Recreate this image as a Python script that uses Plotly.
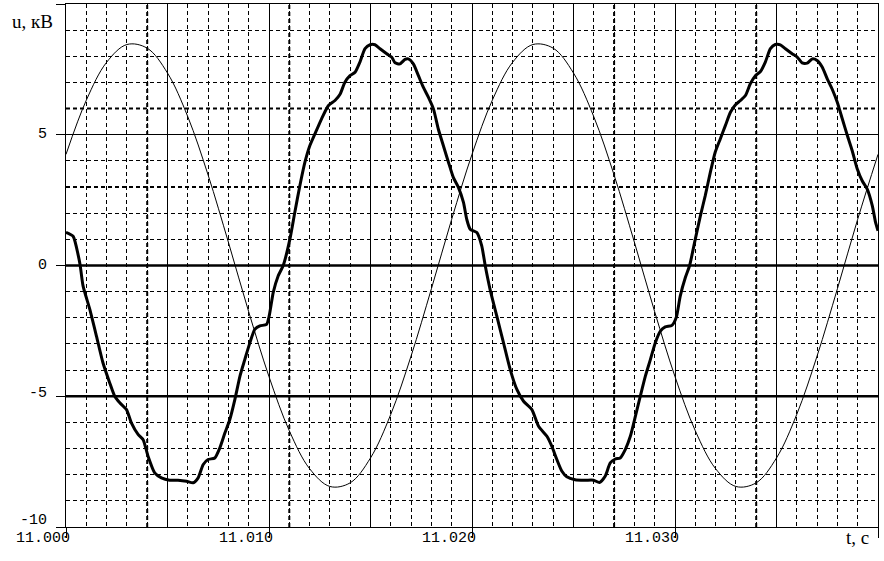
import plotly.graph_objects as go

# ---------------- data ----------------
T0 = 11.000  # start time, s

# thin curve (sinusoid), time in ms from T0
thin_t_ms = list(range(0, 41))
thin_u = [4.25, 6.32, 7.77, 8.45, 8.31, 7.36, 5.69, 3.46, 0.89, -1.77,
          -4.25, -6.32, -7.77, -8.45, -8.31, -7.36, -5.69, -3.46, -0.89, 1.77,
          4.25, 6.32, 7.77, 8.45, 8.31, 7.36, 5.69, 3.46, 0.89, -1.77,
          -4.25, -6.32, -7.77, -8.45, -8.31, -7.36, -5.69, -3.46, -0.89, 1.77,
          4.25]

# thick curve (distorted voltage), time in ms from T0
thick_t_ms = [0.00, 0.35, 0.60, 0.70, 0.84, 1.17, 1.50, 1.82, 2.15, 2.40,
              2.65, 2.98, 3.22, 3.55, 3.80, 4.04, 4.37, 4.70, 5.11, 5.52,
              5.94, 6.26, 6.51, 6.76, 7.00, 7.33, 7.58, 7.83, 8.07, 8.32,
              8.57, 8.81, 9.06, 9.30, 9.55, 9.88, 10.01, 10.21, 10.45, 10.70,
              11.03, 11.27, 11.52, 11.77, 12.01, 12.26, 12.59, 12.92, 13.25, 13.50,
              13.74, 13.99, 14.24, 14.48, 14.73, 14.98, 15.22, 15.47, 15.80, 16.04,
              16.21, 16.45, 16.70, 16.86, 17.11, 17.36, 17.60, 17.85, 18.10, 18.34,
              18.59, 18.84, 19.08, 19.33, 19.58, 19.74, 19.91, 20.24, 20.48, 20.65,
              20.89, 21.22, 21.55, 21.88, 22.21, 22.54, 22.95, 23.28, 23.69, 23.93,
              24.18, 24.43, 24.67, 25.08, 25.58, 25.99, 26.28, 26.56, 26.81, 27.06,
              27.30, 27.55, 27.80, 28.05, 28.29, 28.54, 28.79, 29.03, 29.28, 29.52,
              29.85, 30.06, 30.26, 30.51, 30.72, 31.00, 31.25, 31.49, 31.74, 31.98,
              32.23, 32.48, 32.73, 32.97, 33.22, 33.47, 33.71, 33.96, 34.21, 34.45,
              34.70, 34.94, 35.19, 35.44, 35.77, 36.02, 36.26, 36.51, 36.76, 37.00,
              37.25, 37.50, 37.74, 37.99, 38.24, 38.49, 38.73, 38.98, 39.22, 39.47,
              39.72, 39.88, 40.00]
thick_u = [1.27, 1.12, 0.40, 0.00, -0.78, -1.67, -2.70, -3.72, -4.48, -5.00,
           -5.25, -5.51, -6.02, -6.46, -6.66, -7.29, -7.93, -8.12, -8.21, -8.21,
           -8.25, -8.31, -8.12, -7.61, -7.42, -7.36, -6.97, -6.40, -5.89, -5.12,
           -4.23, -3.59, -2.95, -2.44, -2.31, -2.25, -1.93, -1.03, -0.40, 0.00,
           1.01, 2.03, 3.05, 3.95, 4.58, 5.03, 5.61, 6.11, 6.31, 6.55,
           7.01, 7.26, 7.39, 7.78, 8.29, 8.44, 8.44, 8.29, 8.10, 7.97,
           7.75, 7.71, 7.88, 7.90, 7.71, 7.26, 6.82, 6.44, 5.99, 5.22,
           4.58, 3.95, 3.37, 2.99, 2.41, 1.77, 1.39, 1.26, 0.75, 0.00,
           -0.91, -1.93, -2.95, -3.97, -4.74, -5.19, -5.51, -6.15, -6.53, -6.91,
           -7.42, -7.87, -8.08, -8.19, -8.21, -8.21, -8.30, -8.06, -7.55, -7.40,
           -7.36, -7.04, -6.53, -5.76, -5.00, -4.23, -3.59, -2.95, -2.51, -2.35,
           -2.29, -1.99, -1.16, -0.46, 0.00, 1.01, 1.90, 2.67, 3.56, 4.33,
           4.84, 5.35, 5.86, 6.14, 6.31, 6.50, 6.95, 7.26, 7.42, 7.78,
           8.29, 8.45, 8.44, 8.29, 8.10, 7.97, 7.75, 7.74, 7.90, 7.84,
           7.59, 7.14, 6.75, 6.25, 5.61, 4.97, 4.39, 3.69, 3.24, 2.92,
           2.28, 1.65, 1.33]

x_tick_vals = [11.000, 11.010, 11.020, 11.030, 11.040]
x_tick_text = ["11.000", "11.010", "11.020", "11.030", ""]
y_tick_vals = [-10, -5, 0, 5, 10]
y_tick_text = ["-10", "-5", "0", "5", ""]
x_title = "t, c"
y_title = "u, кВ"

# ---------------- figure ----------------
thin_x = [T0 + t / 1000.0 for t in thin_t_ms]
thick_x = [T0 + t / 1000.0 for t in thick_t_ms]

fig = go.Figure()
fig.add_trace(go.Scatter(x=thin_x, y=thin_u, mode="lines",
                         line=dict(color="black", width=1, shape="spline", smoothing=1.0),
                         showlegend=False, hoverinfo="skip"))
fig.add_trace(go.Scatter(x=thick_x, y=thick_u, mode="lines",
                         line=dict(color="black", width=3, shape="spline", smoothing=0.6),
                         showlegend=False, hoverinfo="skip"))

DASH = "4px,3px"
shapes = []
# solid lines at half-label steps
for xv in [11.005, 11.015, 11.025, 11.035]:
    shapes.append(dict(type="line", xref="x", yref="paper", x0=xv, x1=xv, y0=0, y1=1,
                       line=dict(color="black", width=1), layer="below"))
# heavier dashed grid lines (raster artifacts in the original)
for xv in [11.004, 11.011, 11.027, 11.034]:
    shapes.append(dict(type="line", xref="x", yref="paper", x0=xv, x1=xv, y0=0, y1=1,
                       line=dict(color="black", width=2, dash=DASH), layer="below"))
for yv in [6, 3]:
    shapes.append(dict(type="line", xref="paper", yref="y", x0=0, x1=1, y0=yv, y1=yv,
                       line=dict(color="black", width=2, dash=DASH), layer="below"))
for yv in [0, -5]:
    shapes.append(dict(type="line", xref="paper", yref="y", x0=0, x1=1, y0=yv, y1=yv,
                       line=dict(color="black", width=2.5), layer="below"))

annotations = []
tick_font = dict(family="Liberation Mono", size=15, color="black")
for xv, txt in zip(x_tick_vals, x_tick_text):
    if txt:
        annotations.append(dict(x=xv, y=0, xref="x", yref="paper", text=txt,
                                showarrow=False, xanchor="right", yanchor="top",
                                xshift=5, yshift=-2, borderpad=0, font=tick_font))
for yv, txt in zip(y_tick_vals, y_tick_text):
    if txt:
        if yv == y_tick_vals[0]:
            ys = 7
        elif yv < 0:
            ys = 3
        else:
            ys = 0
        annotations.append(dict(x=0, y=yv, xref="paper", yref="y", text=txt,
                                showarrow=False, xanchor="right", yanchor="middle",
                                xshift=-18, yshift=ys, borderpad=0,
                                font=tick_font))
annotations.append(dict(x=1, y=0, xref="paper", yref="paper", text=x_title,
                        showarrow=False, xanchor="right", yanchor="middle",
                        xshift=-8, yshift=-10, borderpad=0,
                        font=dict(family="Liberation Serif", size=19, color="black")))
annotations.append(dict(x=0, y=1, xref="paper", yref="paper", text=y_title,
                        showarrow=False, xanchor="right", yanchor="middle",
                        xshift=-12, yshift=-17, borderpad=0,
                        font=dict(family="Liberation Serif", size=19, color="black")))

fig.update_layout(
    width=884, height=561,
    margin=dict(l=66, r=6, t=4, b=34),
    paper_bgcolor="white", plot_bgcolor="white",
    shapes=shapes, annotations=annotations,
    xaxis=dict(range=[11.000, 11.040], tickvals=x_tick_vals, ticktext=x_tick_text,
               showticklabels=False, ticks="outside", ticklen=10, tickcolor="black",
               showgrid=True, gridcolor="black", gridwidth=1,
               showline=True, linecolor="black", linewidth=1, mirror=True,
               zeroline=False,
               minor=dict(dtick=0.001, tick0=11.0, showgrid=True, gridcolor="black",
                          gridwidth=1, griddash=DASH, ticks="")),
    yaxis=dict(range=[-10, 10], tickvals=y_tick_vals, ticktext=y_tick_text,
               showticklabels=False, ticks="outside", ticklen=9, tickcolor="black",
               showgrid=True, gridcolor="black", gridwidth=1,
               showline=True, linecolor="black", linewidth=1, mirror=True,
               zeroline=False,
               minor=dict(dtick=1, tick0=0, showgrid=True, gridcolor="black",
                          gridwidth=1, griddash=DASH, ticks="")),
)

fig.write_html("out.html", config={"displayModeBar": False},
               post_script="document.body.style.margin='0';")
